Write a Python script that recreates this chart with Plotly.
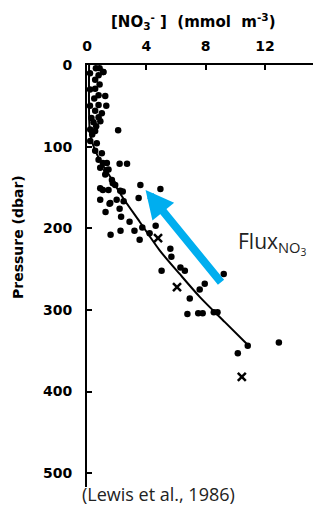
import plotly.graph_objects as go

# Observed nitrate (mmol m-3) vs pressure (dbar) - dots
dot_no3 = [0.6, 0.85, 1.1, 0.78, 1.1, 0.55, 0.85, 0.55, 0.78, 1.23, 0.49, 0.78, 1.3, 0.55, 1.0,
           0.78, 0.44, 0.9, 0.62, 2.1, 0.22, 0.55, 0.22, 0.66, 0.55, 1.0, 0.78, 1.34, 2.2, 2.7,
           0.89, 1.45, 1.23, 1.68, 1.9, 0.89, 1.45, 2.24, 3.6, 3.48, 0.89, 1.57, 2.0, 2.47,
           1.07, 1.3, 1.74, 2.41, 1.07, 1.52, 1.25, 2.2, 2.3, 2.87, 2.26, 1.59, 3.2, 3.73,
           4.22, 4.63, 3.55, 5.62, 5.69, 5.03, 6.3, 6.6, 7.6, 7.94, 9.22, 6.93, 6.77, 7.5,
           7.8, 8.55, 8.8, 10.84, 10.17, 12.94, 4.95, 0.2, 0.2, 0.2, 0.3, 0.35]
dot_p = [4, 4, 8.6, 12.6, 8.6, 18, 24, 29, 37, 38, 41, 49, 50, 56, 59,
         64, 70, 69, 75, 80, 79, 81, 93, 96, 105, 108, 116, 120, 121, 121,
         126, 128, 134, 141, 147, 151, 153, 154, 147, 163, 165, 169, 165, 167,
         120, 129, 145, 155, 153, 170, 180, 176, 186, 192, 203, 208, 203, 199,
         206, 197, 214, 225, 235, 252, 248, 252, 275, 268, 256, 286, 305, 304,
         304, 303, 303, 344, 353, 340, 152, 10, 30, 50, 65, 85]

# Crosses
cross_no3 = [4.79, 6.07, 10.44]
cross_p = [212, 272, 382]

# Fitted profile
curve_no3 = [0.14, 0.17, 0.3, 0.85, 1.5, 2.4, 3.55, 4.9, 6.25, 7.6, 9.3, 10.85]
curve_p = [0, 76, 92, 116, 135, 162, 192, 227, 256, 284, 315, 343]

x_ticks = [0, 4, 8, 12]
y_ticks = [0, 100, 200, 300, 400, 500]

# Flux arrow (tail -> head), in data units
arrow_tail = (9.12, 268)
arrow_head = (3.95, 153)

bold = dict(family="DejaVu Sans", size=14, color="black", weight="bold")
NB = "\u00a0"

L, R, T, B = 87, 17, 65, 21
W, H = 330, 508
PW, PH = W - L - R, H - T - B


def px(xp):
    return (xp - L) / PW


def py(yp):
    return 1 - (yp - T) / PH


fig = go.Figure()
fig.add_trace(go.Scatter(x=curve_no3, y=curve_p, mode="lines",
                         line=dict(color="black", width=2, shape="spline", smoothing=0.8),
                         hoverinfo="skip", showlegend=False))
fig.add_trace(go.Scatter(x=dot_no3, y=dot_p, mode="markers",
                         marker=dict(color="black", size=6.5), showlegend=False))
fig.add_trace(go.Scatter(x=cross_no3, y=cross_p, mode="markers",
                         marker=dict(color="black", size=8, symbol="x-thin",
                                     line=dict(width=2.5, color="black")),
                         showlegend=False))

fig.add_annotation(x=arrow_head[0], y=arrow_head[1], ax=arrow_tail[0], ay=arrow_tail[1],
                   xref="x", yref="y", axref="x", ayref="y", text="", showarrow=True,
                   arrowhead=2, arrowsize=0.7, arrowwidth=8, arrowcolor="#00AEEF", standoff=0)

fig.update_layout(
    width=W, height=H,
    margin=dict(l=L, r=R, t=T, b=B, autoexpand=False),
    paper_bgcolor="white", plot_bgcolor="white",
    xaxis=dict(side="top", range=[0, 15.24], tickvals=x_ticks, ticktext=[str(v) for v in x_ticks],
               showline=True, linecolor="black", linewidth=2, ticks="inside", ticklen=5,
               tickwidth=1.5, tickcolor="black", showgrid=False, zeroline=False,
               tickfont=bold, ticklabelstandoff=6, automargin=False),
    yaxis=dict(range=[517, 0], tickvals=y_ticks, ticktext=[str(v) for v in y_ticks],
               showline=True, linecolor="black", linewidth=2, ticks="inside", ticklen=5,
               tickwidth=1.5, tickcolor="black", showgrid=False, zeroline=False,
               tickfont=bold, ticklabelstandoff=10, automargin=False),
)

fig.add_annotation(xref="paper", yref="paper", x=px(193), y=py(21),
                   text=f"[NO<sub>3</sub><sup>-</sup>{NB}]{NB}{NB}(mmol{NB}{NB}m<sup>-3</sup>)",
                   showarrow=False, font=dict(family="DejaVu Sans", size=15, color="black", weight="bold"),
                   xanchor="center", yanchor="middle")
fig.add_annotation(xref="paper", yref="paper", x=px(18), y=py(237),
                   text="Pressure (dbar)", showarrow=False, textangle=-90,
                   font=bold, xanchor="center", yanchor="middle")
fig.add_annotation(xref="paper", yref="paper", x=px(236), y=py(243),
                   text="Flux<sub>NO<sub>3</sub></sub>", showarrow=False,
                   font=dict(family="Open Sans", size=21, color="#222"),
                   xanchor="left", yanchor="middle")
fig.add_annotation(xref="paper", yref="paper", x=px(158), y=py(494),
                   text="(Lewis et al., 1986)", showarrow=False, borderpad=0,
                   font=dict(family="Open Sans", size=18, color="#222"),
                   xanchor="center", yanchor="middle")

fig.write_html("out.html", config={"displayModeBar": False},
               post_script="document.body.style.margin='0px';document.body.style.overflow='hidden';")
